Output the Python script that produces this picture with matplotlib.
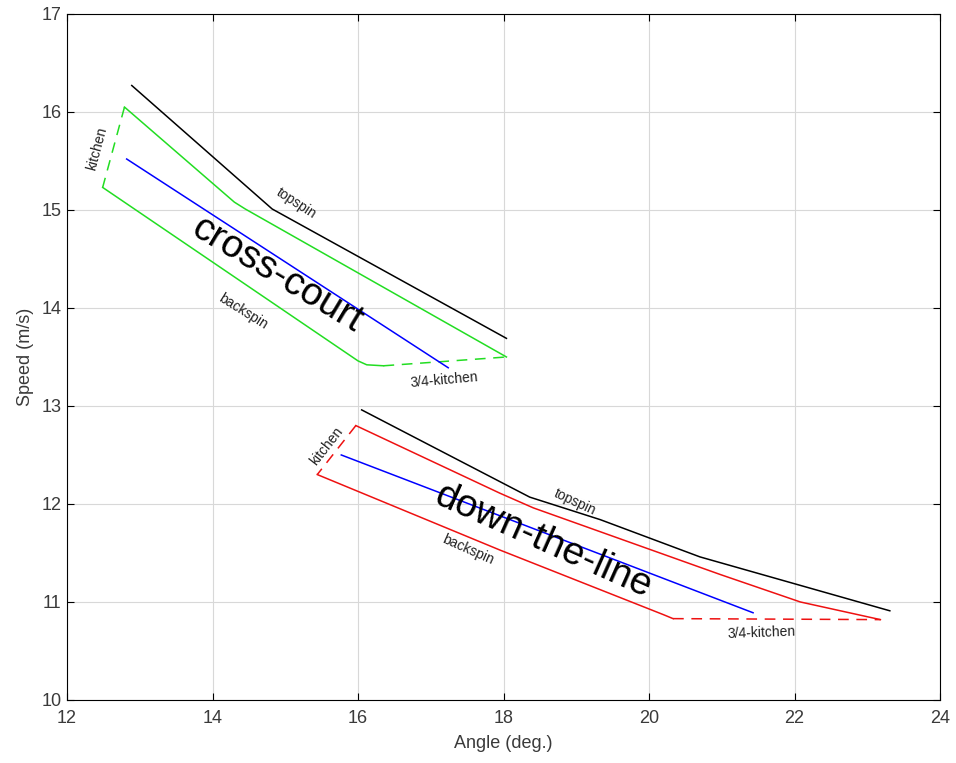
import matplotlib
matplotlib.use('Agg')
import matplotlib.pyplot as plt

plt.rcParams['font.family'] = ['Liberation Sans', 'DejaVu Sans']

# cross-court envelope (angle deg, speed m/s)
cc_top_x = [12.89, 14.82, 18.04]
cc_top_y = [16.27, 15.01, 13.69]
cc_upper_x = [12.79, 14.30, 14.45, 18.04]
cc_upper_y = [16.05, 15.08, 15.01, 13.50]
cc_lower_x = [12.49, 16.00, 16.12, 16.35]
cc_lower_y = [15.23, 13.46, 13.42, 13.41]
cc_short_x = [16.35, 18.04]
cc_short_y = [13.41, 13.50]
cc_kitchen_x = [12.79, 12.49]
cc_kitchen_y = [16.05, 15.23]
cc_mid_x = [12.82, 17.24]
cc_mid_y = [15.52, 13.39]

# down-the-line envelope
dl_top_x = [16.05, 18.36, 19.33, 20.70, 23.31]
dl_top_y = [12.96, 12.07, 11.84, 11.46, 10.91]
dl_upper_x = [15.97, 17.95, 18.41, 20.98, 22.08, 23.18]
dl_upper_y = [12.80, 12.11, 11.96, 11.28, 11.00, 10.82]
dl_lower_x = [15.44, 17.95, 20.20, 20.33]
dl_lower_y = [12.30, 11.53, 10.87, 10.83]
dl_short_x = [20.33, 23.18]
dl_short_y = [10.83, 10.82]
dl_kitchen_x = [15.97, 15.44]
dl_kitchen_y = [12.80, 12.30]
dl_mid_x = [15.77, 21.43]
dl_mid_y = [12.50, 10.89]

# labels: text, x, y, rotation, size
labels = [
    ('cross-court', 14.89, 14.34, -31, 28),
    ('topspin', 15.15, 15.07, -33, 10),
    ('backspin', 14.42, 13.96, -32, 10),
    ('kitchen', 12.41, 15.63, 75, 10),
    ('3/4-kitchen', 17.18, 13.26, 5, 10),
    ('down-the-line', 18.54, 11.62, -24, 28),
    ('topspin', 18.98, 12.02, -25, 10),
    ('backspin', 17.51, 11.53, -24, 10),
    ('kitchen', 15.57, 12.59, 52, 10),
    ('3/4-kitchen', 21.55, 10.69, 2, 10),
]

green = '#22dd22'
red = '#ee1111'

fig = plt.figure(figsize=(9.56, 7.63), dpi=100)
ax = fig.add_axes([0.0701, 0.0826, 0.9132, 0.8991])

lw = 1.1
dash = (0, (7, 5))
ax.plot(cc_top_x, cc_top_y, color='black', lw=lw)
ax.plot(cc_upper_x, cc_upper_y, color=green, lw=lw)
ax.plot(cc_lower_x, cc_lower_y, color=green, lw=lw)
ax.plot(cc_short_x, cc_short_y, color=green, lw=lw, linestyle=dash)
ax.plot(cc_kitchen_x, cc_kitchen_y, color=green, lw=lw, linestyle=dash)
ax.plot(cc_mid_x, cc_mid_y, color='blue', lw=lw)

ax.plot(dl_top_x, dl_top_y, color='black', lw=lw)
ax.plot(dl_upper_x, dl_upper_y, color=red, lw=lw)
ax.plot(dl_lower_x, dl_lower_y, color=red, lw=lw)
ax.plot(dl_short_x, dl_short_y, color=red, lw=lw, linestyle=dash)
ax.plot(dl_kitchen_x, dl_kitchen_y, color=red, lw=lw, linestyle=dash)
ax.plot(dl_mid_x, dl_mid_y, color='blue', lw=lw)

for text, x, y, rot, size in labels:
    ax.text(x, y, text, rotation=rot, fontsize=size, ha='center', va='center',
            rotation_mode='anchor', color='black' if size > 20 else '#222222')

ax.set_xlim(12, 24)
ax.set_ylim(10, 17)
ax.set_xticks(range(12, 25, 2))
ax.set_yticks(range(10, 18))
ax.grid(True, color='#d8d8d8', lw=0.8)
ax.set_axisbelow(True)
ax.tick_params(direction='in', top=True, right=True, labelsize=13,
               labelcolor='#3a3a3a', length=5)
ax.tick_params(axis='x', pad=7)
ax.tick_params(axis='y', pad=4)
ax.set_xlabel('Angle (deg.)', fontsize=13, color='#3a3a3a', labelpad=6)
ax.set_ylabel('Speed (m/s)', fontsize=13, color='#3a3a3a', labelpad=5)

fig.savefig('out.png', dpi=100)
